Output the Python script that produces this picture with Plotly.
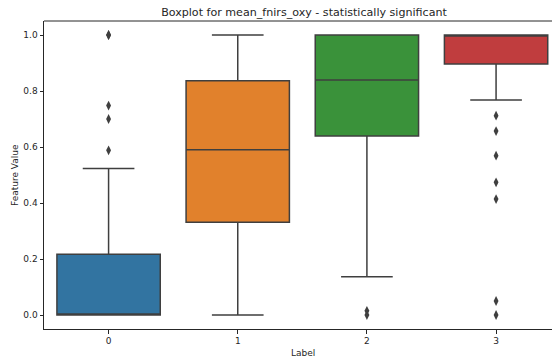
import plotly.graph_objects as go

categories = [0, 1, 2, 3]
tick_labels = ["0", "1", "2", "3"]
q1 = [0.0, 0.331, 0.639, 0.896]
median = [0.0, 0.590, 0.839, 1.0]
q3 = [0.217, 0.837, 1.0, 1.0]
lower_whisker = [0.0, 0.0, 0.137, 0.768]
upper_whisker = [0.523, 1.0, 1.0, 1.0]
outliers = [
    [1.0, 1.0, 0.748, 0.700, 0.588],
    [],
    [0.0, 0.015],
    [0.712, 0.657, 0.569, 0.474, 0.414, 0.05, 0.0],
]
colors = ["#3274a1", "#e1812c", "#3a923a", "#c03d3e"]
edge = "#3f3f3f"

W, H = 552, 360
ML, MR, MT, MB = 44, 0, 21, 31

fig = go.Figure()
for i, c in enumerate(categories):
    fig.add_trace(go.Box(
        x=[c], q1=[q1[i]], median=[median[i]], q3=[q3[i]],
        lowerfence=[lower_whisker[i]], upperfence=[upper_whisker[i]],
        width=0.8, whiskerwidth=0.5, fillcolor=colors[i],
        line=dict(color=edge, width=1.5), boxpoints=False,
        showlegend=False, hoverinfo="skip",
    ))
    if outliers[i]:
        fig.add_trace(go.Scatter(
            x=[c] * len(outliers[i]), y=outliers[i], mode="markers",
            marker=dict(symbol="diamond-tall", size=7, color=edge,
                        line=dict(width=0)),
            showlegend=False, hoverinfo="skip",
        ))

pw = W - ML - MR
ph = H - MT - MB
fig.update_layout(
    width=W, height=H,
    margin=dict(l=ML, r=MR, t=MT, b=MB, autoexpand=False),
    paper_bgcolor="white", plot_bgcolor="white",
    font=dict(family="DejaVu Sans", color="#262626", size=9),
    title=dict(text="Boxplot for mean_fnirs_oxy - statistically significant",
               x=(304 - ML) / pw, xref="paper", xanchor="center",
               y=1 - 12 / H, yref="container", yanchor="middle",
               automargin=False,
               font=dict(size=11.1, color="#262626")),
    boxmode="overlay",
    xaxis=dict(range=[-0.5, 3.433], tickvals=categories, ticktext=tick_labels,
               automargin=False,
               showgrid=False, zeroline=False, showline=True, linecolor="#262626",
               linewidth=1, ticks="outside", ticklen=3.5, tickcolor="#262626",
               mirror=False),
    yaxis=dict(range=[-0.05, 1.05], tickvals=[0, 0.2, 0.4, 0.6, 0.8, 1.0],
               automargin=False,
               tickformat=".1f", showgrid=False, zeroline=False, showline=True,
               linecolor="#262626", linewidth=1, ticks="outside", ticklen=3.5,
               tickcolor="#262626"),
    annotations=[
        dict(text="Label", xref="paper", yref="paper",
             x=(302.5 - ML) / pw, y=-(352.5 - (H - MB)) / ph,
             xanchor="center", yanchor="middle", showarrow=False,
             font=dict(size=9, color="#262626")),
        dict(text="Feature Value", xref="paper", yref="paper",
             x=-(ML - 15) / pw, y=0.5, textangle=-90,
             xanchor="center", yanchor="middle", showarrow=False,
             font=dict(size=9, color="#262626")),
    ],
    shapes=[dict(type="line", xref="paper", yref="paper", x0=0, x1=1, y0=1, y1=1,
                 line=dict(color="#262626", width=1))],
)

fig.write_html("out.html", config={"displayModeBar": False},
               post_script="document.body.style.margin='0';document.body.style.overflow='hidden';")
